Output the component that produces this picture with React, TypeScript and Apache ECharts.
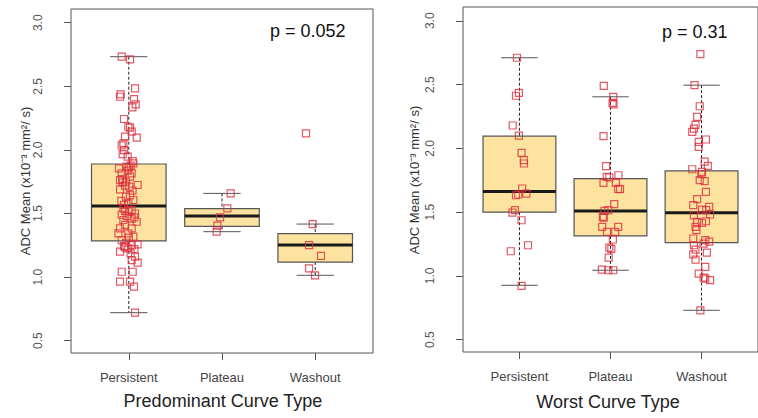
import React, { useEffect, useRef } from "react";
import * as echarts from "echarts";

const categories = ["Persistent", "Plateau", "Washout"];
const yTicks = [0.5, 1.0, 1.5, 2.0, 2.5, 3.0];
const pLeft = "p = 0.052";
const pRight = "p = 0.31";
const titleLeft = "Predominant Curve Type";
const titleRight = "Worst Curve Type";
const yTitle = "ADC Mean (x10\u207B\u00B3 mm\u00B2/ s)";

// [min, q1, median, q3, max]
const predBoxes = [
  [0.72, 1.284, 1.559, 1.889, 2.733],
  [1.357, 1.399, 1.48, 1.538, 1.658],
  [1.014, 1.118, 1.252, 1.341, 1.417],
];
const worstBoxes = [
  [0.926, 1.499, 1.661, 2.095, 2.71],
  [1.044, 1.313, 1.509, 1.763, 2.404],
  [0.73, 1.261, 1.494, 1.823, 2.495],
];

// jittered points [x position, ADC]
const predPersistent = [
  [0.924, 2.733], [1.013, 2.712], [0.913, 2.437], [0.906, 2.418], [1.067, 2.484], [1.056, 2.4],
  [1.074, 2.358], [1.038, 2.334], [0.949, 2.243], [0.995, 2.182], [1.013, 2.175], [1.031, 2.143],
  [0.959, 2.104], [1.085, 2.096], [0.942, 2.051], [0.924, 2.036], [0.949, 1.999], [0.934, 1.967],
  [0.988, 1.947], [1.042, 1.912], [1.049, 1.894], [0.977, 1.868], [1.02, 1.876], [0.895, 1.855],
  [0.988, 1.837], [0.924, 1.816], [1.031, 1.816], [1.013, 1.79], [0.906, 1.763], [0.934, 1.745],
  [1.095, 1.724], [0.959, 1.719], [1.006, 1.711], [0.906, 1.69], [1.013, 1.645], [0.97, 1.632],
  [1.049, 1.606], [0.995, 1.58], [0.949, 1.567], [0.942, 1.54], [1.031, 1.527], [1.006, 1.514],
  [1.067, 1.5], [0.924, 1.49], [0.977, 1.48], [1.031, 1.46], [0.942, 1.449], [1.085, 1.435],
  [0.906, 1.383], [1.031, 1.383], [0.995, 1.344], [0.888, 1.344], [1.049, 1.318], [0.924, 1.291],
  [0.97, 1.27], [1.031, 1.252], [1.095, 1.257], [0.949, 1.244], [0.959, 1.234], [0.995, 1.226],
  [0.906, 1.2], [1.02, 1.187], [1.067, 1.16], [1.031, 1.134], [1.095, 1.113], [0.924, 1.042],
  [1.042, 1.042], [0.906, 0.964], [1.013, 0.964], [1.056, 0.925], [1.067, 0.72],
  [0.97, 1.75], [1.04, 1.68], [0.92, 1.6], [1.06, 1.47], [0.96, 1.41], [1.0, 1.31],
  [1.06, 1.22], [0.93, 1.77], [1.0, 1.86], [0.96, 1.52],
];
const predPlateau = [[2.093, 1.658], [2.057, 1.54], [1.979, 1.47], [1.95, 1.404], [1.943, 1.357]];
const predWashout = [[2.901, 2.13], [2.973, 1.417], [2.934, 1.252], [3.062, 1.166], [2.934, 1.069], [2.998, 1.014]];

const worstPersistent = [
  [0.973, 2.71], [0.962, 2.412], [0.994, 2.435], [0.926, 2.179], [0.994, 2.1], [1.023, 1.964],
  [1.048, 1.907], [1.05, 1.881], [1.03, 1.685], [1.076, 1.645], [0.962, 1.632], [0.987, 1.638],
  [0.951, 1.515], [0.923, 1.496], [1.023, 1.436], [1.094, 1.24], [0.905, 1.193], [1.023, 0.921],
];
const worstPlateau = [
  [1.926, 2.49], [2.03, 2.404], [2.023, 2.357], [2.034, 2.344], [1.923, 2.095], [1.951, 1.86],
  [1.959, 1.776], [1.987, 1.771], [2.087, 1.789], [1.923, 1.729], [2.059, 1.729], [2.084, 1.682],
  [2.105, 1.68], [2.041, 1.562], [1.934, 1.509], [1.976, 1.515], [1.916, 1.462], [1.926, 1.457],
  [1.909, 1.384], [2.084, 1.384], [1.962, 1.345], [2.051, 1.345], [2.026, 1.285], [1.987, 1.222],
  [2.009, 1.211], [1.98, 1.143], [1.905, 1.049], [1.976, 1.044], [2.03, 1.044],
];
const worstWashout = [
  [2.987, 2.738], [2.923, 2.495], [2.98, 2.33], [2.951, 2.247], [2.934, 2.184], [2.916, 2.155],
  [2.898, 2.129], [2.969, 2.051], [3.048, 2.069], [2.969, 2.011], [3.034, 1.896], [3.069, 1.862],
  [2.898, 1.836], [3.005, 1.815], [2.998, 1.797], [2.98, 1.75], [3.034, 1.742], [3.048, 1.658],
  [2.951, 1.601], [2.909, 1.554], [3.084, 1.541], [3.005, 1.52], [3.051, 1.515], [3.094, 1.481],
  [2.916, 1.475], [2.951, 1.423], [3.005, 1.415], [3.048, 1.428], [2.934, 1.384], [2.944, 1.358],
  [2.909, 1.293], [3.041, 1.28], [3.084, 1.269], [3.023, 1.253], [2.916, 1.24], [2.934, 1.206],
  [3.059, 1.182], [2.909, 1.169], [2.934, 1.128], [3.041, 1.07], [2.969, 1.018], [3.023, 0.986],
  [3.041, 0.979], [3.094, 0.966], [2.987, 0.73],
];

const FONT = "Liberation Sans, Arial, sans-serif";
const FILL = "#FCE3A0";
const PT = "#DC2F3C";

function makeAxes(idx: number) {
  const xAxis = {
    type: "value",
    gridIndex: idx,
    min: 0.38,
    max: 3.62,
    splitLine: { show: false },
    axisLine: { show: false },
    axisTick: { show: true, length: 7, lineStyle: { color: "#555" }, customValues: [1, 2, 3] },
    axisLabel: {
      customValues: [1, 2, 3],
      formatter: (v: number) => categories[Math.round(v) - 1] || "",
      color: "#444",
      fontSize: 13,
      fontFamily: FONT,
      margin: 18,
    },
  };
  const yAxis = {
    type: "value",
    gridIndex: idx,
    min: 0.403,
    max: 3.108,
    splitLine: { show: false },
    axisLine: { show: false },
    axisTick: { show: true, length: 7, lineStyle: { color: "#555" }, customValues: yTicks },
    axisLabel: {
      customValues: yTicks,
      formatter: (v: number) => v.toFixed(1),
      rotate: 90,
      color: "#555",
      fontSize: 12,
      fontFamily: FONT,
      margin: 27,
    },
  };
  return { xAxis, yAxis };
}

function boxSeries(idx: number, boxes: number[][]) {
  return {
    type: "custom",
    xAxisIndex: idx,
    yAxisIndex: idx,
    z: 1,
    data: boxes.map((b, i) => [i + 1, ...b]),
    encode: { x: 0, y: [1, 2, 3, 4, 5] },
    renderItem: (params: any, api: any) => {
      const x = api.value(0);
      const lo = api.value(1), q1 = api.value(2), med = api.value(3), q3 = api.value(4), hi = api.value(5);
      const tl = api.coord([x - 0.4, q3]);
      const br = api.coord([x + 0.4, q1]);
      const mL = api.coord([x - 0.4, med]);
      const mR = api.coord([x + 0.4, med]);
      const cHiL = api.coord([x - 0.2, hi]);
      const cHiR = api.coord([x + 0.2, hi]);
      const cLoL = api.coord([x - 0.2, lo]);
      const cLoR = api.coord([x + 0.2, lo]);
      const cx = api.coord([x, med])[0];
      return {
        type: "group",
        children: [
          { type: "line", shape: { x1: cx, y1: cHiL[1], x2: cx, y2: tl[1] }, style: { stroke: "#222", lineWidth: 1, lineDash: [3, 2] } },
          { type: "line", shape: { x1: cx, y1: br[1], x2: cx, y2: cLoL[1] }, style: { stroke: "#222", lineWidth: 1, lineDash: [3, 2] } },
          { type: "line", shape: { x1: cHiL[0], y1: cHiL[1], x2: cHiR[0], y2: cHiR[1] }, style: { stroke: "#555", lineWidth: 1 } },
          { type: "line", shape: { x1: cLoL[0], y1: cLoL[1], x2: cLoR[0], y2: cLoR[1] }, style: { stroke: "#555", lineWidth: 1 } },
          { type: "rect", shape: { x: tl[0], y: tl[1], width: br[0] - tl[0], height: br[1] - tl[1] }, style: { fill: FILL, stroke: "#555", lineWidth: 1.2 } },
          { type: "line", shape: { x1: mL[0], y1: mL[1], x2: mR[0], y2: mR[1] }, style: { stroke: "#1a1a1a", lineWidth: 3 } },
        ],
      };
    },
  };
}

function pointSeries(idx: number, pts: number[][]) {
  return {
    type: "scatter",
    xAxisIndex: idx,
    yAxisIndex: idx,
    z: 3,
    symbol: "rect",
    symbolSize: 7,
    itemStyle: { color: "rgba(255,255,255,0)", borderColor: PT, borderWidth: 1.2 },
    data: pts,
  };
}

export default function App() {
  const ref = useRef<HTMLDivElement>(null);
  useEffect(() => {
    document.body.style.margin = "0";
    if (!ref.current) return;
    const chart = echarts.init(ref.current, null, { renderer: "svg" });
    const a0 = makeAxes(0);
    const a1 = makeAxes(1);
    chart.setOption({
      animation: false,
      backgroundColor: "#fff",
      grid: [
        { left: 71, top: 9, width: 302, height: 344, show: true, borderColor: "#555", borderWidth: 1, backgroundColor: "transparent" },
        { left: 463, top: 7, width: 302, height: 345, show: true, borderColor: "#555", borderWidth: 1, backgroundColor: "transparent" },
      ],
      xAxis: [a0.xAxis, a1.xAxis],
      yAxis: [a0.yAxis, a1.yAxis],
      series: [
        boxSeries(0, predBoxes),
        pointSeries(0, predPersistent),
        pointSeries(0, predPlateau),
        pointSeries(0, predWashout),
        boxSeries(1, worstBoxes),
        pointSeries(1, worstPersistent),
        pointSeries(1, worstPlateau),
        pointSeries(1, worstWashout),
      ],
      graphic: [
        { type: "text", x: 270, y: 31, style: { text: pLeft, font: `18px ${FONT}`, fill: "#111", textVerticalAlign: "middle" } },
        { type: "text", x: 662, y: 32, style: { text: pRight, font: `18px ${FONT}`, fill: "#111", textVerticalAlign: "middle" } },
        { type: "text", x: 223, y: 401, style: { text: titleLeft, font: `18px ${FONT}`, fill: "#222", textAlign: "center", textVerticalAlign: "middle" } },
        { type: "text", x: 608, y: 402, style: { text: titleRight, font: `18px ${FONT}`, fill: "#222", textAlign: "center", textVerticalAlign: "middle" } },
        { type: "text", x: 25, y: 181, rotation: Math.PI / 2, style: { text: yTitle, font: `13px ${FONT}`, fill: "#333", textAlign: "center", textVerticalAlign: "middle" } },
        { type: "text", x: 414, y: 180, rotation: Math.PI / 2, style: { text: yTitle, font: `13px ${FONT}`, fill: "#333", textAlign: "center", textVerticalAlign: "middle" } },
      ],
    });
    return () => chart.dispose();
  }, []);
  return <div ref={ref} style={{ width: 758, height: 418 }} />;
}
